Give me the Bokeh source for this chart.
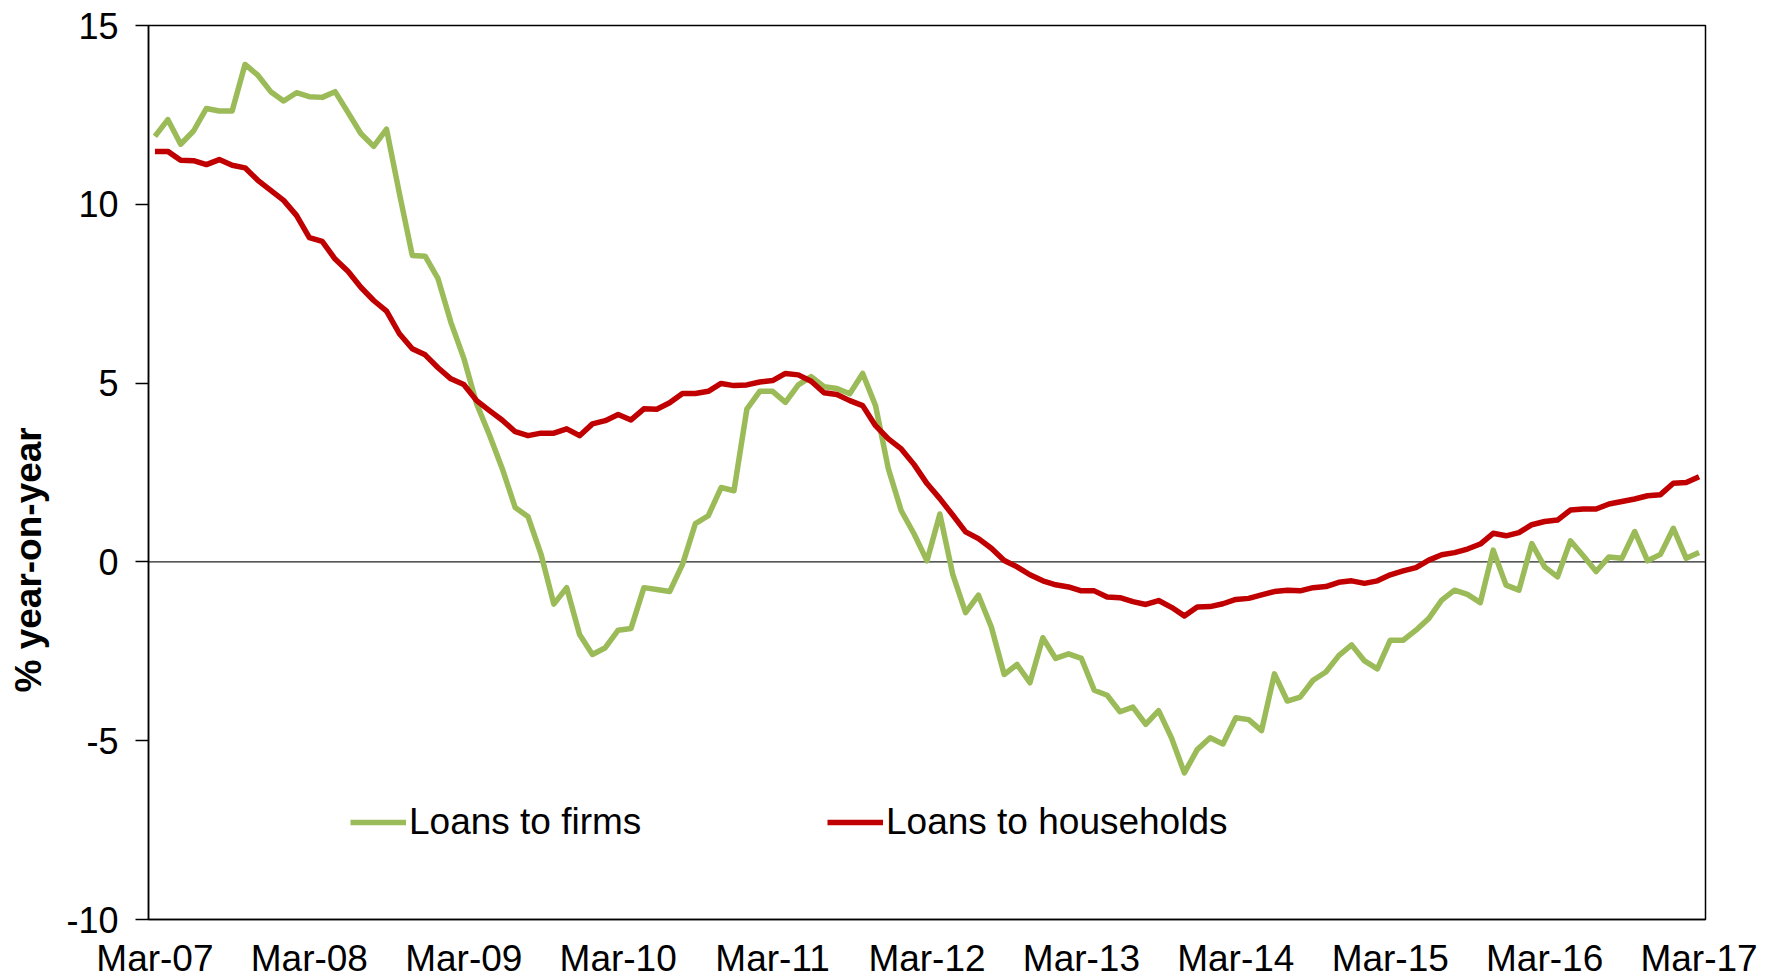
from bokeh.plotting import figure
from bokeh.models import Range1d, FixedTicker, Span, Legend, LegendItem
from bokeh.embed import file_html
from bokeh.resources import INLINE

# Monthly observations, Mar-07 .. Mar-17 (121 months)
tick_labels = ["Mar-07", "Mar-08", "Mar-09", "Mar-10", "Mar-11", "Mar-12",
               "Mar-13", "Mar-14", "Mar-15", "Mar-16", "Mar-17"]

loans_to_firms = [
    11.90, 12.37, 11.68, 12.05, 12.68, 12.61, 12.61, 13.91, 13.61, 13.15, 12.89, 13.12,
    13.01, 12.99, 13.15, 12.57, 11.98, 11.62, 12.10, 10.30, 8.57, 8.55, 7.92, 6.70,
    5.70, 4.42, 3.55, 2.60, 1.52, 1.26, 0.22, -1.18, -0.72, -2.03, -2.59, -2.40,
    -1.91, -1.86, -0.72, -0.77, -0.83, -0.07, 1.07, 1.29, 2.08, 1.99, 4.27, 4.77,
    4.77, 4.46, 4.95, 5.18, 4.90, 4.85, 4.70, 5.27, 4.37, 2.60, 1.43, 0.78,
    0.03, 1.34, -0.35, -1.42, -0.93, -1.82, -3.15, -2.87, -3.38, -2.12, -2.70, -2.57,
    -2.70, -3.59, -3.73, -4.19, -4.06, -4.54, -4.16, -4.92, -5.90, -5.25, -4.92, -5.09,
    -4.36, -4.41, -4.72, -3.13, -3.89, -3.78, -3.31, -3.08, -2.62, -2.32, -2.77, -2.99,
    -2.19, -2.19, -1.91, -1.58, -1.07, -0.79, -0.91, -1.14, 0.33, -0.65, -0.79, 0.51,
    -0.14, -0.42, 0.59, 0.17, -0.27, 0.14, 0.10, 0.85, 0.03, 0.21, 0.94, 0.10,
    0.26,
]

loans_to_households = [
    11.48, 11.48, 11.23, 11.22, 11.11, 11.25, 11.09, 11.02, 10.67, 10.39, 10.11, 9.69,
    9.07, 8.96, 8.47, 8.13, 7.68, 7.31, 7.01, 6.38, 5.96, 5.79, 5.43, 5.12,
    4.96, 4.51, 4.23, 3.96, 3.64, 3.53, 3.60, 3.60, 3.72, 3.53, 3.86, 3.95,
    4.12, 3.97, 4.28, 4.27, 4.45, 4.71, 4.71, 4.77, 4.99, 4.93, 4.95, 5.03,
    5.07, 5.27, 5.23, 5.05, 4.73, 4.68, 4.51, 4.37, 3.81, 3.44, 3.16, 2.72,
    2.19, 1.77, 1.31, 0.84, 0.65, 0.38, 0.04, -0.14, -0.36, -0.53, -0.64, -0.70,
    -0.81, -0.81, -0.98, -1.00, -1.11, -1.19, -1.08, -1.27, -1.51, -1.26, -1.25, -1.17,
    -1.05, -1.02, -0.92, -0.83, -0.79, -0.81, -0.72, -0.69, -0.57, -0.53, -0.60, -0.53,
    -0.36, -0.25, -0.16, 0.05, 0.20, 0.26, 0.36, 0.50, 0.80, 0.73, 0.82, 1.04,
    1.13, 1.17, 1.45, 1.48, 1.48, 1.62, 1.69, 1.76, 1.85, 1.88, 2.20, 2.22,
    2.38,
]

y_ticks = [-10, -5, 0, 5, 10, 15]
y_tick_labels = ["-10", "-5", "0", "5", "10", "15"]
y_title = "% year-on-year"

months = list(range(len(loans_to_firms)))
FONT = "Liberation Sans"

p = figure(frame_width=1557, frame_height=894,
           min_border_left=148, min_border_right=60,
           min_border_top=25, min_border_bottom=60,
           x_range=Range1d(-0.5, len(months) - 0.5), y_range=Range1d(-10, 15),
           output_backend="svg", toolbar_location=None,
           background_fill_color="white", border_fill_color="white")

p.xgrid.visible = False
p.ygrid.visible = False
p.outline_line_color = "black"
p.outline_line_width = 1.5

zero = Span(location=0, dimension="width", line_color="#222222", line_width=1.3, level="underlay")
p.add_layout(zero)

g = p.line(months, loans_to_firms, line_color="#9BBB59", line_width=5.5, line_join="round")
r = p.line(months, loans_to_households, line_color="#C00000", line_width=5.5, line_join="round")

# x axis
p.xaxis.ticker = FixedTicker(ticks=[12 * i for i in range(len(tick_labels))])
p.xaxis.major_label_overrides = {12 * i: t for i, t in enumerate(tick_labels)}
p.xaxis.major_tick_out = 0
p.xaxis.major_tick_in = 0
p.xaxis.minor_tick_out = 0
p.xaxis.minor_tick_in = 0
p.xaxis.major_label_standoff = 18
p.xaxis.axis_line_color = "black"
p.xaxis.axis_line_width = 1.5

# y axis
p.yaxis.ticker = FixedTicker(ticks=y_ticks)
p.yaxis.major_label_overrides = {v: t for v, t in zip(y_ticks, y_tick_labels)}
p.yaxis.major_tick_out = 13
p.yaxis.major_tick_in = 0
p.yaxis.minor_tick_out = 0
p.yaxis.minor_tick_in = 0
p.yaxis.major_label_standoff = 17
p.yaxis.axis_line_color = "black"
p.yaxis.axis_line_width = 1.5
p.yaxis.major_tick_line_color = "black"
p.yaxis.major_tick_line_width = 1.5

for ax in (p.xaxis, p.yaxis):
    ax.major_label_text_font = FONT
    ax.major_label_text_color = "black"
p.xaxis.major_label_text_font_size = "37px"
p.yaxis.major_label_text_font_size = "36px"

# axis title, shifted down along the axis (as in the reference) with trailing no-break spaces
p.yaxis.axis_label = y_title + "\u00a0" * 17
p.yaxis.axis_label_text_font = FONT
p.yaxis.axis_label_text_font_size = "37px"
p.yaxis.axis_label_text_font_style = "bold"
p.yaxis.axis_label_text_color = "black"
p.yaxis.axis_label_standoff = 14

legend = Legend(items=[LegendItem(label="Loans to firms", renderers=[g]),
                       LegendItem(label="Loans to households", renderers=[r])],
                orientation="horizontal", location=(202, 76),
                glyph_width=56, glyph_height=40, label_height=40, label_width=418,
                label_standoff=3, spacing=0, padding=0, margin=0,
                border_line_alpha=0, background_fill_alpha=0,
                label_text_font=FONT, label_text_font_size="37px", label_text_color="black")
p.add_layout(legend)

open("out.html", "w").write(file_html(p, INLINE))
